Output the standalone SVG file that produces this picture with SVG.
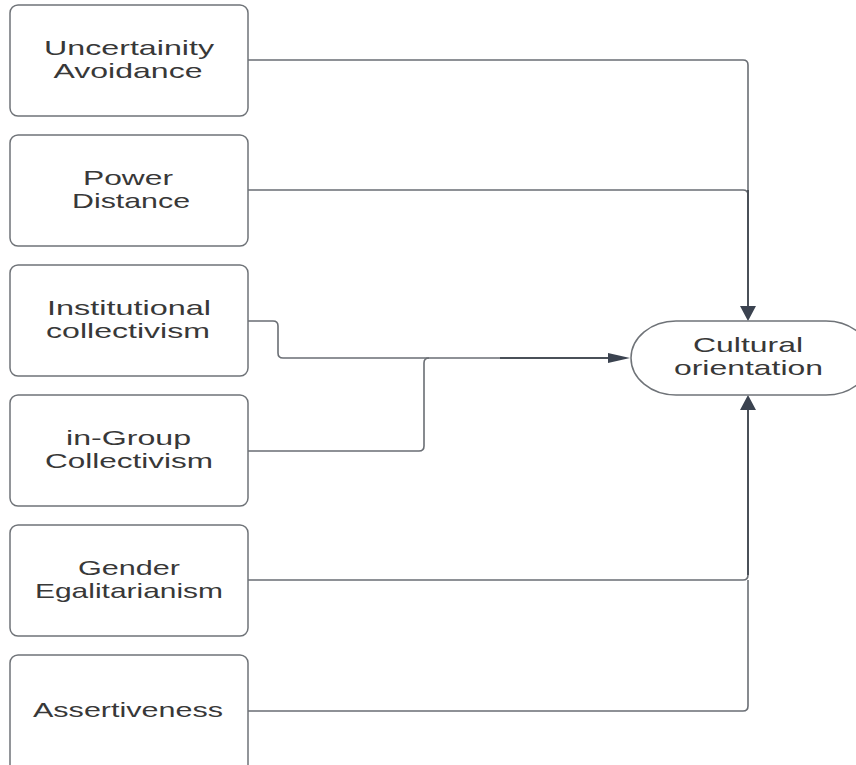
<svg xmlns="http://www.w3.org/2000/svg" width="856" height="765" viewBox="0 0 856 765">
<style>
.box{fill:#fff;stroke:#6f7378;stroke-width:1.5}
.t{font-family:"Liberation Sans",Arial,sans-serif;font-size:21px;fill:#383838;text-anchor:middle}
.ln{fill:none;stroke:#6a6e74;stroke-width:1.6}
.main{fill:none;stroke:#4a5058;stroke-width:2}
.ah{fill:#3b4350}
</style>
<rect width="856" height="765" fill="#fff"/>
<g id="connectors">
<path class="ln" d="M248,60 H743 Q748,60 748,65 V306"/>
<path class="ln" d="M248,190 H743 Q748,190 748,195"/>
<path class="main" d="M748,190 V306"/>
<path class="ln" d="M248,321 H273 Q278,321 278,326 V353 Q278,358 283,358 H610"/>
<path class="ln" d="M248,451 H419 Q424,451 424,446 V363 Q424,358 429,358"/>
<path class="main" d="M500,358 H610"/>
<path class="ln" d="M248,580 H743 Q748,580 748,575 V410"/>
<path class="ln" d="M248,711 H743 Q748,711 748,706 V580"/>
<path class="main" d="M748,575 V410"/>
<polygon class="ah" points="740,306 756,306 748,321"/>
<polygon class="ah" points="740,410 756,410 748,395"/>
<polygon class="ah" points="608,353 608,363 630,358"/>
</g>
<g id="n1"><rect class="box" x="10" y="5" width="238" height="111" rx="8"/>
<text class="t" x="129" y="54.5" textLength="170" lengthAdjust="spacingAndGlyphs">Uncertainity</text>
<text class="t" x="128" y="77.5" textLength="149" lengthAdjust="spacingAndGlyphs">Avoidance</text></g>
<g id="n2"><rect class="box" x="10" y="135" width="238" height="111" rx="8"/>
<text class="t" x="128" y="184.5" textLength="90" lengthAdjust="spacingAndGlyphs">Power</text>
<text class="t" x="131" y="207.5" textLength="118" lengthAdjust="spacingAndGlyphs">Distance</text></g>
<g id="n3"><rect class="box" x="10" y="265" width="238" height="111" rx="8"/>
<text class="t" x="129" y="314.5" textLength="164" lengthAdjust="spacingAndGlyphs">Institutional</text>
<text class="t" x="128" y="337.5" textLength="164" lengthAdjust="spacingAndGlyphs">collectivism</text></g>
<g id="n4"><rect class="box" x="10" y="395" width="238" height="111" rx="8"/>
<text class="t" x="128.5" y="444.5" textLength="125" lengthAdjust="spacingAndGlyphs">in-Group</text>
<text class="t" x="129" y="467.5" textLength="168" lengthAdjust="spacingAndGlyphs">Collectivism</text></g>
<g id="n5"><rect class="box" x="10" y="525" width="238" height="111" rx="8"/>
<text class="t" x="129" y="574.5" textLength="102" lengthAdjust="spacingAndGlyphs">Gender</text>
<text class="t" x="129" y="597.5" textLength="188" lengthAdjust="spacingAndGlyphs">Egalitarianism</text></g>
<g id="n6"><rect class="box" x="10" y="655" width="238" height="120" rx="8"/>
<text class="t" x="128" y="717" textLength="190" lengthAdjust="spacingAndGlyphs">Assertiveness</text></g>
<g id="target"><rect class="box" x="631" y="321" width="240" height="74" rx="45" ry="37"/>
<text class="t" x="748" y="352" textLength="110" lengthAdjust="spacingAndGlyphs">Cultural</text>
<text class="t" x="748.5" y="375" textLength="149" lengthAdjust="spacingAndGlyphs">orientation</text></g>
</svg>
